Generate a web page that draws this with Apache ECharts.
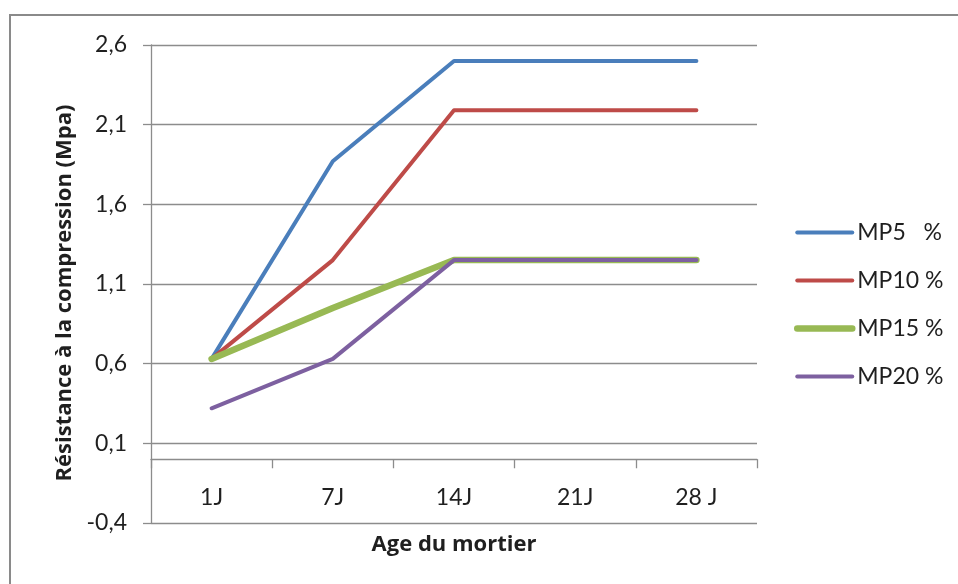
<!DOCTYPE html>
<html>
<head>
<meta charset="utf-8">
<script src="https://cdn.jsdelivr.net/npm/echarts@6/dist/echarts.min.js"></script>
<style>
  html, body { margin: 0; padding: 0; background: #fff; }
  #chart { width: 958px; height: 584px; }
</style>
</head>
<body>
<div id="chart"></div>
<script>
// Compressive strength of mortar by age, for each MP dosage
const categories = ['1J', '7J', '14J', '21J', '28 J'];
const seriesNames = ['MP5   %', 'MP10 %', 'MP15 %', 'MP20 %'];
const mp5 = [0.63, 1.87, 2.50, 2.50, 2.50];
const mp10 = [0.63, 1.25, 2.19, 2.19, 2.19];
const mp15 = [0.63, 0.95, 1.25, 1.25, 1.25];
const mp20 = [0.32, 0.63, 1.25, 1.25, 1.25];
const yMin = -0.4;
const yMax = 2.6;
const yStep = 0.5;

const FONT = 'Lato, "Liberation Sans", sans-serif';
const NAME_FONT = '"Open Sans", Lato, sans-serif';
const FS = 23;
const TEXT = '#1f1f1f';
const AXIS = '#8c8c8c';

const colors = ['#4A7EBB', '#BE4B48', '#98B954', '#7D60A0'];
const widths = [4, 4, 6.5, 4];
const values = [mp5, mp10, mp15, mp20];

const chart = echarts.init(document.getElementById('chart'), null, { renderer: 'canvas' });

chart.setOption({
  animation: false,
  backgroundColor: '#ffffff',
  graphic: [{
    type: 'rect',
    shape: { x: 10, y: 15, width: 1200, height: 1000 },
    style: { fill: 'none', stroke: '#8a8a8a', lineWidth: 2 },
    silent: true,
    z: -1
  }],
  grid: { left: 151, right: 201, top: 45, bottom: 61, containLabel: false, outerBoundsMode: 'none' },
  legend: {
    orient: 'vertical',
    left: 794,
    top: 221,
    padding: 0,
    itemWidth: 55,
    itemHeight: 23,
    itemGap: 25,
    itemStyle: { opacity: 0 },
    textStyle: { fontFamily: FONT, fontSize: FS, color: TEXT, lineHeight: 23 },
    data: seriesNames.map((n, i) => ({
      name: n,
      itemStyle: { opacity: 0 },
      lineStyle: { color: colors[i], width: widths[i] }
    }))
  },
  xAxis: {
    type: 'category',
    data: categories,
    boundaryGap: true,
    axisLine: { onZero: true, lineStyle: { color: AXIS, width: 1.3 } },
    axisTick: { show: true, length: 9, lineStyle: { color: AXIS, width: 1.3 } },
    axisLabel: { margin: -37, fontFamily: FONT, fontSize: FS, color: TEXT },
    name: 'Age du mortier',
    nameLocation: 'middle',
    nameGap: 11,
    nameTextStyle: { fontFamily: NAME_FONT, fontSize: 22, fontWeight: 'bold', color: TEXT }
  },
  yAxis: {
    type: 'value',
    min: yMin,
    max: yMax,
    interval: yStep,
    axisLine: { show: true, lineStyle: { color: AXIS, width: 1.3 } },
    axisTick: { show: true, length: 8, lineStyle: { color: AXIS, width: 1.3 } },
    splitLine: { show: true, lineStyle: { color: AXIS, width: 1.3 } },
    axisLabel: {
      margin: 24,
      fontFamily: FONT,
      fontSize: FS,
      color: TEXT,
      formatter: v => v.toFixed(1).replace('.', ',')
    },
    name: 'Résistance à la compression (Mpa)',
    nameLocation: 'middle',
    nameGap: 64,
    nameRotate: 90,
    nameTextStyle: {
      fontFamily: NAME_FONT, fontSize: 22, fontWeight: 'bold', color: TEXT,
      padding: [0, 18, 0, 0]
    }
  },
  series: seriesNames.map((n, i) => ({
    name: n,
    type: 'line',
    data: values[i],
    symbol: 'none',
    showSymbol: false,
    lineStyle: { color: colors[i], width: widths[i], cap: 'round', join: 'round' },
    itemStyle: { color: colors[i] },
    z: 2 + i
  }))
});
</script>
</body>
</html>
